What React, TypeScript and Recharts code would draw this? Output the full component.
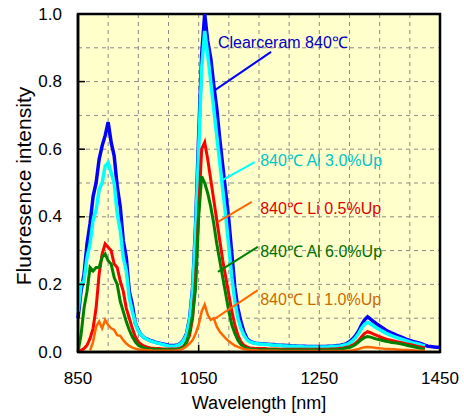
import { LineChart, Line, XAxis, YAxis, CartesianGrid, ReferenceLine, ReferenceArea, ReferenceDot } from 'recharts';

// wavelength sampling (nm)
const wavelengths = [
  850, 855, 860, 865, 870, 875, 880, 885, 890, 895,
  900, 905, 910, 915, 920, 925, 930, 935, 940, 945,
  950, 955, 960, 965, 970, 975, 980, 985, 990, 995,
  1000, 1005, 1010, 1015, 1020, 1025, 1030, 1035, 1040, 1045,
  1050, 1055, 1060, 1065, 1070, 1075, 1080, 1085, 1090, 1095,
  1100, 1105, 1110, 1115, 1120, 1125, 1130, 1135, 1140, 1145,
  1150, 1155, 1160, 1165, 1170, 1175, 1180, 1185, 1190, 1195,
  1200, 1205, 1210, 1215, 1220, 1225, 1230, 1235, 1240, 1245,
  1250, 1255, 1260, 1265, 1270, 1275, 1280, 1285, 1290, 1295,
  1300, 1305, 1310, 1315, 1320, 1325, 1330, 1335, 1340, 1345,
  1350, 1355, 1360, 1365, 1370, 1375, 1380, 1385, 1390, 1395,
  1400, 1405, 1410, 1415, 1420, 1425, 1430, 1435, 1440, 1445,
  1450,
];

const clearceram = [
  0.10, 0.18, 0.23, 0.32, 0.38, 0.46, 0.50, 0.57, 0.61, 0.64,
  0.68, 0.62, 0.58, 0.49, 0.43, 0.33, 0.28, 0.18, 0.14, 0.085,
  0.065, 0.05, 0.042, 0.038, 0.034, 0.031, 0.028, 0.026, 0.024, 0.022,
  0.02, 0.019, 0.019, 0.021, 0.026, 0.036, 0.055, 0.10, 0.19, 0.38,
  0.64, 0.88, 1.0, 0.92, 0.87, 0.79, 0.72, 0.63, 0.55, 0.47,
  0.39, 0.29, 0.19, 0.13, 0.09, 0.06, 0.04, 0.032, 0.028, 0.026,
  0.025, 0.024, 0.024, 0.023, 0.022, 0.022, 0.021, 0.02, 0.02, 0.019,
  0.019, 0.018, 0.018, 0.017, 0.017, 0.017, 0.016, 0.016, 0.016, 0.016,
  0.016, 0.016, 0.016, 0.017, 0.017, 0.018, 0.019, 0.02, 0.022, 0.025,
  0.03, 0.038, 0.048, 0.062, 0.08, 0.095, 0.104, 0.097, 0.09, 0.083,
  0.077, 0.071, 0.065, 0.06, 0.056, 0.052, 0.048, 0.045, 0.041, 0.037,
  0.034, 0.031, 0.029, 0.027, 0.024, 0.02, 0.017, 0.016, 0.015, 0.014,
  0.014,
];

const al30 = [
  0.12, 0.2, 0.21, 0.28, 0.32, 0.39, 0.42, 0.48, 0.50, 0.55,
  0.56, 0.53, 0.50, 0.41, 0.36, 0.28, 0.24, 0.16, 0.12, 0.085,
  0.062, 0.05, 0.042, 0.037, 0.033, 0.03, 0.027, 0.025, 0.022, 0.02,
  0.018, 0.017, 0.017, 0.019, 0.024, 0.034, 0.052, 0.095, 0.18, 0.36,
  0.6, 0.84, 0.95, 0.88, 0.80, 0.72, 0.64, 0.56, 0.48, 0.40,
  0.31, 0.22, 0.15, 0.10, 0.07, 0.05, 0.036, 0.03, 0.027, 0.025,
  0.024, 0.023, 0.022, 0.022, 0.021, 0.02, 0.02, 0.019, 0.018, 0.018,
  0.017, 0.017, 0.016, 0.016, 0.016, 0.015, 0.015, 0.015, 0.015, 0.015,
  0.015, 0.015, 0.015, 0.015, 0.016, 0.016, 0.017, 0.018, 0.02, 0.022,
  0.026, 0.033, 0.042, 0.055, 0.07, 0.082, 0.088, 0.083, 0.077, 0.071,
  0.066, 0.061, 0.056, 0.052, 0.048, 0.045, 0.042, 0.039, 0.036, 0.033,
  0.03, 0.027, 0.025, 0.023, 0.02, 0.018, null, null, null, null,
  null,
];

const li05 = [
  0.0, 0.005, 0.01, 0.02, 0.04, 0.07, 0.13, 0.23, 0.29, 0.32,
  0.31, 0.30, 0.26, 0.25, 0.21, 0.18, 0.13, 0.10, 0.07, 0.045,
  0.03, 0.022, 0.017, 0.014, 0.012, 0.011, 0.01, 0.01, 0.009, 0.009,
  0.009, 0.009, 0.009, 0.01, 0.012, 0.017, 0.028, 0.05, 0.1, 0.22,
  0.42, 0.6, 0.62, 0.57, 0.51, 0.45, 0.39, 0.33, 0.27, 0.22,
  0.17, 0.12, 0.08, 0.05, 0.03, 0.02, 0.015, 0.012, 0.011, 0.01,
  0.01, 0.01, 0.01, 0.009, 0.009, 0.009, 0.009, 0.008, 0.008, 0.008,
  0.008, 0.008, 0.008, 0.008, 0.008, 0.008, 0.008, 0.008, 0.008, 0.008,
  0.008, 0.008, 0.008, 0.008, 0.009, 0.009, 0.01, 0.011, 0.012, 0.014,
  0.016, 0.02, 0.026, 0.034, 0.045, 0.055, 0.06, 0.057, 0.053, 0.049,
  0.045, 0.042, 0.039, 0.036, 0.034, 0.032, 0.03, 0.028, 0.026, 0.024,
  0.022, 0.02, 0.018, 0.016, 0.014, 0.012, null, null, null, null,
  null,
];

const al60 = [
  0.0, 0.05, 0.13, 0.18, 0.25, 0.24, 0.25, 0.25, 0.28, 0.29,
  0.27, 0.26, 0.22, 0.2, 0.15, 0.12, 0.09, 0.065, 0.045, 0.03,
  0.02, 0.015, 0.012, 0.01, 0.009, 0.008, 0.008, 0.007, 0.007, 0.007,
  0.007, 0.007, 0.007, 0.008, 0.01, 0.015, 0.03, 0.06, 0.11, 0.19,
  0.4, 0.52, 0.5, 0.47, 0.43, 0.38, 0.32, 0.27, 0.22, 0.17,
  0.12, 0.08, 0.055, 0.035, 0.022, 0.015, 0.011, 0.009, 0.008, 0.007,
  0.007, 0.007, 0.007, 0.007, 0.007, 0.007, 0.007, 0.006, 0.006, 0.006,
  0.006, 0.006, 0.006, 0.006, 0.006, 0.006, 0.006, 0.006, 0.006, 0.006,
  0.006, 0.006, 0.006, 0.006, 0.006, 0.007, 0.007, 0.008, 0.01, 0.012,
  0.013, 0.017, 0.022, 0.029, 0.037, 0.043, 0.046, 0.044, 0.041, 0.038,
  0.036, 0.034, 0.032, 0.03, 0.028, 0.027, 0.026, 0.024, 0.022, 0.02,
  0.018, 0.016, 0.014, 0.012, 0.01, 0.009, null, null, null, null,
  null,
];

const li10 = [
  null, null, null, null, 0.005, 0.03, 0.075, 0.09, 0.07, 0.095,
  0.08, 0.07, 0.065, 0.05, 0.048, 0.035, 0.025, 0.018, 0.013, 0.01,
  0.008, 0.007, 0.006, 0.005, 0.005, 0.004, 0.004, 0.004, 0.004, 0.004,
  0.004, 0.004, 0.004, 0.005, 0.007, 0.011, 0.017, 0.025, 0.035, 0.055,
  0.08, 0.12, 0.14, 0.11, 0.095, 0.1, 0.075, 0.06, 0.05, 0.04,
  0.032, 0.025, 0.019, 0.015, 0.012, 0.009, 0.007, 0.006, 0.005, 0.005,
  0.004, 0.004, 0.004, 0.004, 0.004, 0.004, 0.004, 0.003, 0.003, 0.003,
  0.003, 0.003, 0.003, 0.003, 0.003, 0.003, 0.003, 0.003, 0.003, 0.003,
  0.003, 0.003, 0.003, 0.003, 0.003, 0.003, 0.003, 0.003, 0.003, 0.003,
  0.004, 0.005, 0.007, 0.009, 0.012, 0.014, 0.015, 0.014, 0.013, 0.012,
  0.011, 0.01, 0.009, 0.009, 0.008, 0.008, 0.007, 0.007, 0.006, 0.006,
  0.005, 0.005, 0.004, 0.004, 0.004, 0.004, null, null, null, null,
  null,
];

const xDomain = [850, 1450];
const yDomain = [0, 1];
const xTicks = [850, 1050, 1250, 1450];
const yTicks = [0, 0.2, 0.4, 0.6, 0.8, 1.0];
const gridX = [900, 950, 1000, 1050, 1100, 1150, 1200, 1250, 1300, 1350, 1400];
const gridY = [0.1, 0.2, 0.3, 0.4, 0.5, 0.6, 0.7, 0.8, 0.9];

// annotation text + leader lines (data coords)
const notes = [
  { text: 'Clearceram 840℃', color: '#0000C0', line: '#0000FF', tx: 1077, ty: 0.917, from: [1077, 0.775], to: [1170, 0.888] },
  { text: '840℃ Al 3.0%Up', color: '#00C4C4', line: '#00FFFF', tx: 1147, ty: 0.568, from: [1090, 0.509], to: [1143, 0.562] },
  { text: '840℃ Li 0.5%Up', color: '#E00000', line: '#FF6600', tx: 1147, ty: 0.424, from: [1082, 0.385], to: [1138, 0.444] },
  { text: '840℃ Al 6.0%Up', color: '#006E00', line: '#008000', tx: 1147, ty: 0.299, from: [1082, 0.237], to: [1148, 0.311] },
  { text: '840℃ Li 1.0%Up', color: '#CC6A00', line: '#FF6600', tx: 1147, ty: 0.157, from: [1074, 0.095], to: [1148, 0.183] },
];

const data = wavelengths.map((w, i) => ({
  w,
  clearceram: clearceram[i],
  al30: al30[i],
  li05: li05[i],
  al60: al60[i],
  li10: li10[i],
}));

const FONT = '"Liberation Sans", Arial, sans-serif';

function YTick({ x, y, payload }: any) {
  return (
    <g>
      <text x={x} y={y} textAnchor="end" dominantBaseline="central" fontSize={17} fill="#000" fontFamily={FONT}>
        {Number(payload.value).toFixed(1)}
      </text>
      <line x1={x + 16} x2={x + 23} y1={y} y2={y} stroke="#000" strokeWidth={1.5} />
    </g>
  );
}

function XTick({ x, y, payload }: any) {
  return (
    <g>
      <text x={x} y={y} dy="0.71em" textAnchor="middle" fontSize={17} fill="#000" fontFamily={FONT}>
        {payload.value}
      </text>
      <line x1={x} x2={x} y1={y - 20} y2={y - 27} stroke="#000" strokeWidth={1.5} />
    </g>
  );
}

// dashed grid every 50 nm / 0.1, placed in the plot box
const gridVertical = ({ offset }: any) =>
  gridX.map(v => offset.left + ((v - xDomain[0]) / (xDomain[1] - xDomain[0])) * offset.width);
const gridHorizontal = ({ offset }: any) =>
  gridY.map(v => offset.top + (1 - (v - yDomain[0]) / (yDomain[1] - yDomain[0])) * offset.height);

export default function App() {
  return (
    <div style={{ position: 'absolute', left: 0, top: 0, fontFamily: FONT, background: '#fff' }}>
      <LineChart width={464} height={418} data={data} margin={{ top: 14, right: 24, bottom: 0, left: 0 }}>
        <CartesianGrid
          fill="#FFFFCC"
          stroke="#8a8a8a"
          strokeDasharray="4 4"
          verticalCoordinatesGenerator={gridVertical}
          horizontalCoordinatesGenerator={gridHorizontal}
        />
        <XAxis
          dataKey="w"
          type="number"
          domain={xDomain}
          ticks={xTicks}
          height={66}
          tickSize={0}
          tickMargin={20}
          tickLine={false}
          axisLine={{ stroke: '#000', strokeWidth: 2.5 }}
          tick={<XTick />}
          label={{ value: 'Wavelength [nm]', position: 'insideBottom', offset: 9, fontSize: 18, fill: '#000', fontFamily: FONT }}
        />
        <YAxis
          type="number"
          domain={yDomain}
          ticks={yTicks}
          width={78}
          tickSize={0}
          tickMargin={16}
          tickLine={false}
          axisLine={{ stroke: '#000', strokeWidth: 2.5 }}
          tick={<YTick />}
          allowDataOverflow
          label={{
            content: (p: any) => {
              const vb = p.viewBox;
              const cx = vb.x + 23;
              const cy = vb.y + vb.height / 2 + 3;
              return (
                <text x={cx} y={cy} transform={`rotate(-90 ${cx} ${cy})`} textAnchor="middle" dominantBaseline="central" fontSize={21} fill="#000" fontFamily={FONT}>
                  Fluoresence intensity
                </text>
              );
            },
          }}
        />
        <Line dataKey="clearceram" stroke="#0000FF" strokeWidth={3.5} dot={false} isAnimationActive={false} />
        <Line dataKey="al30" stroke="#00FFFF" strokeWidth={3.5} dot={false} isAnimationActive={false} />
        <Line dataKey="li05" stroke="#FF0000" strokeWidth={3} dot={false} isAnimationActive={false} />
        <Line dataKey="al60" stroke="#008000" strokeWidth={3} dot={false} isAnimationActive={false} />
        <Line dataKey="li10" stroke="#FF6600" strokeWidth={2.5} dot={false} isAnimationActive={false} />
        {notes.map(n => (
          <ReferenceLine
            key={'l' + n.text}
            segment={[{ x: n.from[0], y: n.from[1] }, { x: n.to[0], y: n.to[1] }]}
            stroke={n.line}
            strokeWidth={2}
          />
        ))}
        {notes.map(n => (
          <ReferenceDot
            key={'t' + n.text}
            x={n.tx}
            y={n.ty}
            r={0}
            fill="none"
            stroke="none"
            label={{ value: n.text, position: 'right', offset: 3, fill: n.color, fontSize: 16, fontFamily: FONT }}
          />
        ))}
        <ReferenceArea x1={850} x2={1450} y1={0} y2={1} fill="none" stroke="#000" strokeWidth={2.5} />
      </LineChart>
    </div>
  );
}
